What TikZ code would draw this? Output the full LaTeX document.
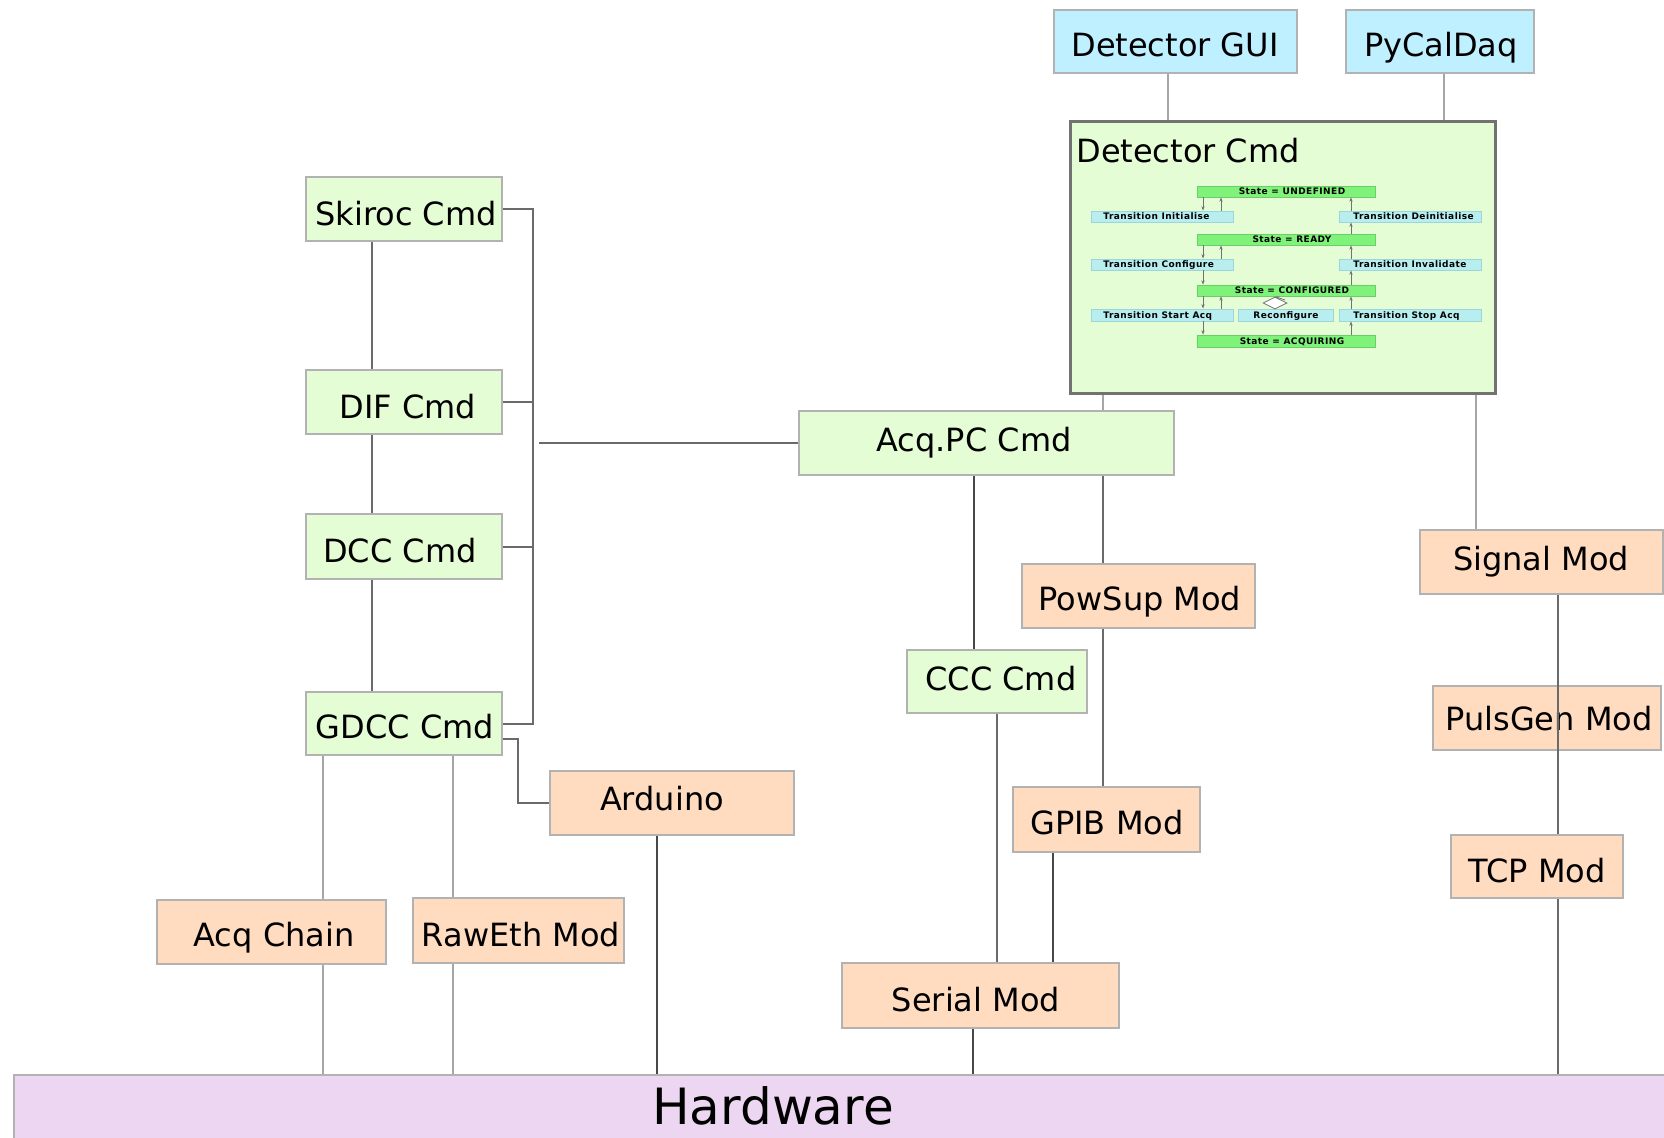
\documentclass[tikz,border=0pt]{standalone}
\usepackage{fontspec}
\setmainfont{DejaVu Sans}
\newfontfamily\statefont{DejaVu Sans}[LetterSpace=5]
\usetikzlibrary{fit,arrows.meta,shapes.geometric}

\definecolor{cmdfill}{HTML}{E4FDD5}
\definecolor{modfill}{HTML}{FFDBC0}
\definecolor{guifill}{HTML}{BFF0FF}
\definecolor{hwfill}{HTML}{EDD6F2}
\definecolor{boxline}{HTML}{B2B2B2}
\definecolor{detline}{HTML}{727272}
\definecolor{stategreen}{HTML}{7FF27A}
\definecolor{transcyan}{HTML}{B8EEF0}
\definecolor{transline}{HTML}{9DD6DA}
\definecolor{connmid}{HTML}{6A6A6A}
\definecolor{connlight}{HTML}{A6A6A6}
\definecolor{conndark}{HTML}{484848}

\tikzset{
  box/.style={draw=boxline, line width=1pt, inner sep=0pt},
  cmdbox/.style={box, fill=cmdfill},
  modbox/.style={box, fill=modfill},
  guibox/.style={box, fill=guifill},
  lbl/.style={anchor=base, inner sep=0pt, font=\fontsize{16}{19}\selectfont},
  conn/.style={draw=connmid, line width=1pt},
  connl/.style={draw=connlight, line width=1pt},
  connd/.style={draw=conndark, line width=0.8pt},
  statebar/.style={fill=stategreen, draw=stategreen!85!black, line width=0.3pt, inner sep=0pt},
  transbox/.style={fill=transcyan, draw=transline, line width=0.4pt, inner sep=0pt},
  smalltxt/.style={inner sep=0pt, font=\fontsize{4.5}{5}\statefont\bfseries},
  sarrow/.style={draw=detline, line width=0.4pt, -{Stealth[length=2.2pt,width=1.6pt]}}
}

\begin{document}
\begin{tikzpicture}[x=0.5pt, y=-0.5pt]
\useasboundingbox (0,0) rectangle (1664,1137);
\clip (0,0) rectangle (1664,1137);
\fill[white] (0,0) rectangle (1664,1137);

% ---------- hardware layer ----------
\node[box, fill=hwfill, fit={(14,1075) (1690,1170)}] (hw) {};
\node[anchor=base, inner sep=0pt, font=\fontsize{25}{30}\selectfont] (hw-t) at (773,1124) {Hardware};

% ---------- client applications ----------
\node[guibox, fit={(1054,10) (1297,73)}] (gui) {};
\node[lbl] (gui-t) at (1175,56) {Detector GUI};
\node[guibox, fit={(1346,10) (1534,73)}] (pycal) {};
\node[lbl] (pycal-t) at (1441,56) {PyCalDaq};

% ---------- detector command with its state machine ----------
\node[draw=detline, line width=1.5pt, fill=cmdfill, inner sep=0pt, fit={(1070,121) (1495,393)}] (detcmd) {};
\node[anchor=base west, inner sep=0pt, font=\fontsize{16}{19}\selectfont] (detcmd-t) at (1076,162) {Detector Cmd};

\node[statebar, fit={(1197,186) (1375,197)}] (sUnd) {};
\node[statebar, fit={(1197,234) (1375,245)}] (sRdy) {};
\node[statebar, fit={(1197,285) (1375,296)}] (sCfg) {};
\node[statebar, fit={(1197,335) (1375,347)}] (sAcq) {};
\node[smalltxt, anchor=base] (sUnd-t) at (1292,194.5) {State = UNDEFINED};
\node[smalltxt, anchor=base] (sRdy-t) at (1292,242.5) {State = READY};
\node[smalltxt, anchor=base] (sCfg-t) at (1292,293.5) {State = CONFIGURED};
\node[smalltxt, anchor=base] (sAcq-t) at (1292,344) {State = ACQUIRING};

\node[transbox, fit={(1091,211) (1233,222)}] (tInit) {};
\node[transbox, fit={(1091,259) (1233,270)}] (tConf) {};
\node[transbox, fit={(1091,309) (1233,321)}] (tStart) {};
\node[transbox, fit={(1339,211) (1481,222)}] (tDeinit) {};
\node[transbox, fit={(1339,259) (1481,270)}] (tInval) {};
\node[transbox, fit={(1339,309) (1481,321)}] (tStop) {};
\node[transbox, fit={(1238,309) (1333,321)}] (tReconf) {};
\node[smalltxt, anchor=base west] (tInit-t) at (1103,219.5) {Transition Initialise};
\node[smalltxt, anchor=base west] (tConf-t) at (1103,267.5) {Transition Configure};
\node[smalltxt, anchor=base west] (tStart-t) at (1103,318) {Transition Start Acq};
\node[smalltxt, anchor=base west] (tDeinit-t) at (1353,219.5) {Transition Deinitialise};
\node[smalltxt, anchor=base west] (tInval-t) at (1353,267.5) {Transition Invalidate};
\node[smalltxt, anchor=base west] (tStop-t) at (1353,318) {Transition Stop Acq};
\node[smalltxt, anchor=base] (tReconf-t) at (1286,318) {Reconfigure};

\node[diamond, draw=detline, fill=white, line width=0.4pt, inner sep=0pt,
      minimum width=12pt, minimum height=6pt] (rdia) at (1275,303) {};
\coordinate (rtip) at (1285,300);
\draw[sarrow] (rtip) -- (rdia.north);

% state machine arrows: left column goes down / returns up, right column goes up
\coordinate (xd) at (1203,0);
\coordinate (xu) at (1221,0);
\coordinate (xr) at (1351,0);
\draw[sarrow] (sUnd.south -| xd) -- (tInit.north -| xd);
\draw[sarrow] (tInit.north -| xu) -- (sUnd.south -| xu);
\draw[sarrow] (sRdy.south -| xd) -- (tConf.north -| xd);
\draw[sarrow] (tConf.north -| xu) -- (sRdy.south -| xu);
\draw[sarrow] (tConf.south -| xd) -- (sCfg.north -| xd);
\draw[sarrow] (sCfg.south -| xd) -- (tStart.north -| xd);
\draw[sarrow] (tStart.north -| xu) -- (sCfg.south -| xu);
\draw[sarrow] (tStart.south -| xd) -- (sAcq.north -| xd);
\draw[sarrow] (tDeinit.north -| xr) -- (sUnd.south -| xr);
\draw[sarrow] (sRdy.north -| xr) -- (tDeinit.south -| xr);
\draw[sarrow] (tInval.north -| xr) -- (sRdy.south -| xr);
\draw[sarrow] (sCfg.north -| xr) -- (tInval.south -| xr);
\draw[sarrow] (tStop.north -| xr) -- (sCfg.south -| xr);
\draw[sarrow] (sAcq.north -| xr) -- (tStop.south -| xr);

% ---------- command chain on the left ----------
\node[cmdbox, fit={(306,177) (502,241)}] (skiroc) {};
\node[lbl] (skiroc-t) at (406,225) {Skiroc Cmd};
\node[cmdbox, fit={(306,370) (502,434)}] (dif) {};
\node[lbl] (dif-t) at (408,418) {DIF Cmd};
\node[cmdbox, fit={(306,514) (502,579)}] (dcc) {};
\node[lbl] (dcc-t) at (400,562) {DCC Cmd};
\node[cmdbox, fit={(306,692) (502,755)}] (gdcc) {};
\node[lbl] (gdcc-t) at (405,738) {GDCC Cmd};

\node[modbox, fit={(550,771) (794,835)}] (arduino) {};
\node[lbl] (arduino-t) at (662,810) {Arduino};
\node[modbox, fit={(157,900) (386,964)}] (acqchain) {};
\node[lbl] (acqchain-t) at (274,946) {Acq Chain};
\node[modbox, fit={(413,898) (624,963)}] (raweth) {};
\node[lbl] (raweth-t) at (521,946) {RawEth Mod};

% ---------- acquisition PC branch ----------
\node[cmdbox, fit={(799,411) (1174,475)}] (acqpc) {};
\node[lbl] (acqpc-t) at (974,451) {Acq.PC Cmd};
\node[cmdbox, fit={(907,650) (1087,713)}] (ccc) {};
\node[lbl] (ccc-t) at (1001,690) {CCC Cmd};
\node[modbox, fit={(1022,564) (1255,628)}] (powsup) {};
\node[lbl] (powsup-t) at (1140,610) {PowSup Mod};
\node[modbox, fit={(1013,787) (1200,852)}] (gpib) {};
\node[lbl] (gpib-t) at (1107,834) {GPIB Mod};
\node[modbox, fit={(842,963) (1119,1028)}] (serial) {};
\node[lbl] (serial-t) at (976,1011) {Serial Mod};

% ---------- signal branch ----------
\node[modbox, fit={(1420,530) (1663,594)}] (signal) {};
\node[lbl] (signal-t) at (1541,570) {Signal Mod};
\node[modbox, fit={(1433,686) (1661,750)}] (pulsgen) {};
\node[lbl] (pulsgen-t) at (1549,730) {PulsGen Mod};
\node[modbox, fit={(1451,835) (1623,898)}] (tcp) {};
\node[lbl] (tcp-t) at (1537,882) {TCP Mod};

% ---------- connectors ----------
\coordinate (xgui) at (1168,0);
\coordinate (xpy) at (1444,0);
\coordinate (xps) at (1103,0);
\coordinate (xsig) at (1476,0);
\coordinate (xtcp) at (1558,0);
\coordinate (xccc) at (974,0);
\coordinate (xser) at (997,0);
\coordinate (xgp) at (1053,0);
\coordinate (xshw) at (973,0);
\coordinate (xchain) at (372,0);
\coordinate (trunk) at (533,0);
\coordinate (xac) at (323,0);
\coordinate (xre) at (453,0);
\coordinate (xard) at (657,0);
\coordinate (ardtap) at (518,739);
\coordinate (busend) at (539,443);

\draw[connl] (gui.south -| xgui) -- (detcmd.north -| xgui);
\draw[connl] (pycal.south -| xpy) -- (detcmd.north -| xpy);
\draw[connl] (detcmd.south -| xps) -- (acqpc.north -| xps);
\draw[connl] (detcmd.south -| xsig) -- (signal.north -| xsig);

\draw[conn] (skiroc.south -| xchain) -- (dif.north -| xchain);
\draw[conn] (dif.south -| xchain) -- (dcc.north -| xchain);
\draw[conn] (dcc.south -| xchain) -- (gdcc.north -| xchain);
\draw[conn] (skiroc.east) -- (skiroc.east -| trunk) -- (gdcc.east -| trunk) -- (gdcc.east);
\draw[conn] (dif.east) -- (dif.east -| trunk);
\draw[conn] (dcc.east) -- (dcc.east -| trunk);
\draw[conn] (busend) -- (acqpc.west);
\draw[conn] (gdcc.east |- ardtap) -- (ardtap) |- (arduino.west);
\draw[connl] (gdcc.south -| xac) -- (acqchain.north -| xac);
\draw[connl] (gdcc.south -| xre) -- (raweth.north -| xre);
\draw[connl] (acqchain.south -| xac) -- (hw.north -| xac);
\draw[connl] (raweth.south -| xre) -- (hw.north -| xre);
\draw[connd] (arduino.south -| xard) -- (hw.north -| xard);

\draw[connd] (acqpc.south -| xccc) -- (ccc.north -| xccc);
\draw[conn] (acqpc.south -| xps) -- (powsup.north -| xps);
\draw[conn] (powsup.south -| xps) -- (gpib.north -| xps);
\draw[conn] (ccc.south -| xser) -- (serial.north -| xser);
\draw[connd] (gpib.south -| xgp) -- (serial.north -| xgp);
\draw[connd] (serial.south -| xshw) -- (hw.north -| xshw);

\draw[conn] (signal.south -| xtcp) -- (tcp.north -| xtcp);
\draw[conn] (tcp.south -| xtcp) -- (hw.north -| xtcp);
\end{tikzpicture}
\end{document}
